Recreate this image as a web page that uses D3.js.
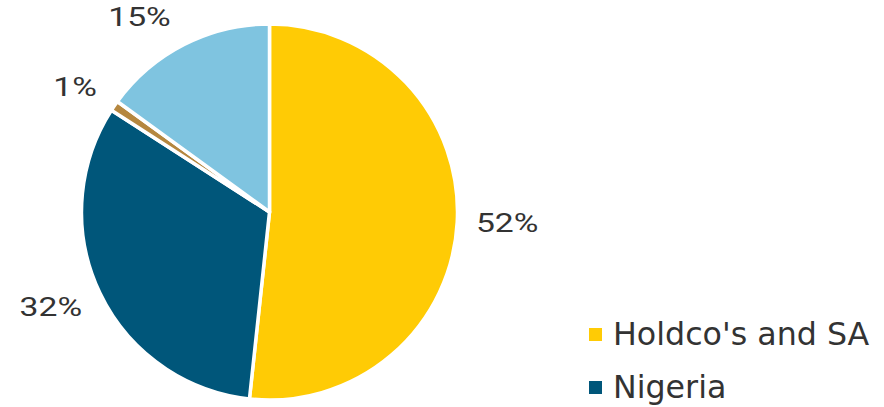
<!DOCTYPE html>
<html>
<head>
<meta charset="utf-8">
<script src="https://cdn.jsdelivr.net/npm/d3@7"></script>
<style>
  html, body { margin: 0; padding: 0; background: #fff; }
</style>
</head>
<body>
<svg id="chart" width="884" height="407"></svg>
<script>
// data
const categories = ["Holdco's and SA", "Nigeria", "Other", "Rest of Africa"];
const shares = [51.7, 32.4, 0.9, 15.0];
const colors = ["#FFCB05", "#00567A", "#B5873F", "#7FC4E0"];
const legendItems = ["Holdco's and SA", "Nigeria"];
// small nudges for the label boxes (excel style placement)
const labelShift = [[0, -2], [-4, -8], [2, 9], [-22, 17]];

const svg = d3.select("#chart");
const cx = 269.5, cy = 212, radius = 188, labelR = 238;

const pie = d3.pie().sort(null).value(d => d)(shares);
const arc = d3.arc().innerRadius(0).outerRadius(radius);
const labelArc = d3.arc().innerRadius(labelR).outerRadius(labelR);
const fmt = d3.format(".0f");

const g = svg.append("g").attr("transform", "translate(" + cx + "," + cy + ")");

g.selectAll("path.slice")
  .data(pie)
  .join("path")
  .attr("class", "slice")
  .attr("d", arc)
  .attr("fill", (d, i) => colors[i])
  .attr("stroke", "#fff")
  .attr("stroke-width", 3.5)
  .attr("stroke-linejoin", "round");

g.selectAll("text.lbl")
  .data(pie)
  .join("text")
  .attr("class", "lbl")
  .attr("transform", (d, i) => {
    const c = labelArc.centroid(d);
    return "translate(" + (c[0] + labelShift[i][0]) + "," + (c[1] + labelShift[i][1]) + ") scale(1.27,1)";
  })
  .attr("text-anchor", "middle")
  .attr("dy", "0.36em")
  .attr("font-family", "Roboto, sans-serif")
  .attr("font-size", 26.5)
  .attr("fill", "#333")
  .text(d => fmt(d.data) + "%");

// legend
const legend = svg.append("g").attr("transform", "translate(589,0)");
const ly = d3.scalePoint().domain(legendItems).range([345, 398]);

legend.selectAll("rect")
  .data(legendItems)
  .join("rect")
  .attr("x", 0)
  .attr("y", d => ly(d) - 17)
  .attr("width", 13)
  .attr("height", 13)
  .attr("fill", d => colors[categories.indexOf(d)]);

legend.selectAll("text")
  .data(legendItems)
  .join("text")
  .attr("x", 24)
  .attr("y", d => ly(d))
  .attr("font-family", "'DejaVu Sans', Verdana, sans-serif")
  .attr("font-size", 31.7)
  .attr("fill", "#333")
  .text(d => d);
</script>
</body>
</html>
